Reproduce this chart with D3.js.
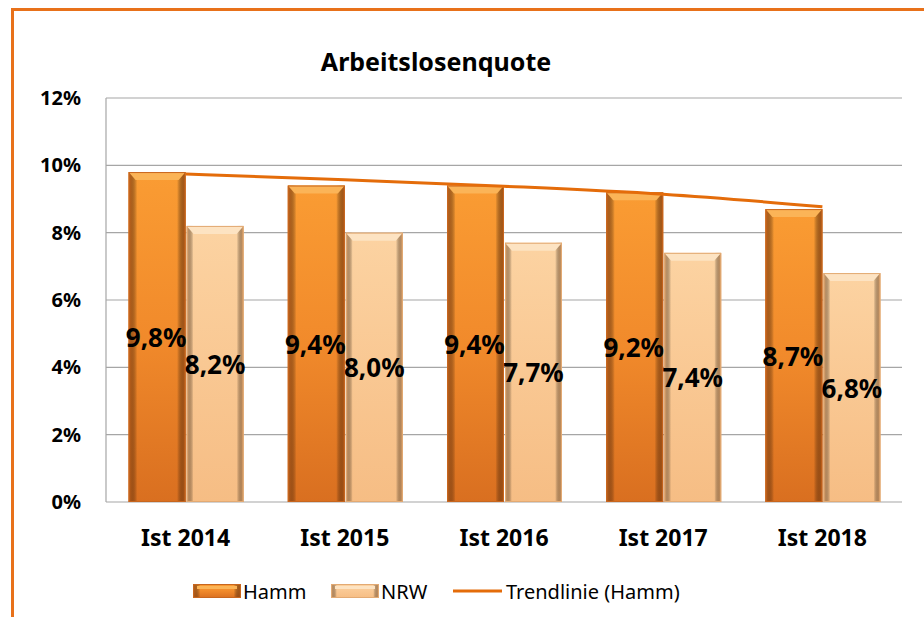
<!DOCTYPE html>
<html><head><meta charset="utf-8">
<script src="https://cdn.jsdelivr.net/npm/d3@7"></script>
<style>body{margin:0;background:#fff;}svg{display:block;}</style>
</head><body>
<script>
const categories = ["Ist 2014","Ist 2015","Ist 2016","Ist 2017","Ist 2018"];
const hamm = [9.8, 9.4, 9.4, 9.2, 8.7];
const nrw = [8.2, 8.0, 7.7, 7.4, 6.8];
const trend = [9.74, 9.57, 9.38, 9.14, 8.77];
const yTicks = [0,2,4,6,8,10,12];
const seriesNames = ["Hamm","NRW","Trendlinie (Hamm)"];

const W = 924, H = 617;
const svg = d3.select("body").append("svg").attr("width",W).attr("height",H);
const font = "'Noto Sans', 'Open Sans', sans-serif";
const defs = svg.append("defs");

function grad(id, stops, vertical){
  const g = defs.append("linearGradient").attr("id",id)
    .attr("x1",0).attr("y1",0).attr("x2",vertical?0:1).attr("y2",vertical?1:0);
  stops.forEach(s=>g.append("stop").attr("offset",s[0]).attr("stop-color",s[1]));
}
grad("gH",[[0,"#fa9c33"],[0.5,"#f18a2b"],[1,"#d96f20"]],true);
grad("gN",[[0,"#fcd3a2"],[1,"#f6bd84"]],true);
grad("gHside",[[0,"#c9651c"],[0.15,"rgba(0,0,0,0)"],[0.85,"rgba(0,0,0,0)"],[1,"#b55a17"]],false);
grad("gNside",[[0,"#e0a46c"],[0.12,"rgba(0,0,0,0)"],[0.88,"rgba(0,0,0,0)"],[1,"#d99c63"]],false);

// frame
svg.append("line").attr("x1",12).attr("x2",W).attr("y1",9.5).attr("y2",9.5).attr("stroke","#e8711a").attr("stroke-width",3);
svg.append("line").attr("x1",12.5).attr("x2",12.5).attr("y1",8).attr("y2",H).attr("stroke","#e8711a").attr("stroke-width",3);

const plot = {l:106, r:902, t:98, b:502};
const x = d3.scaleBand().domain(categories).range([plot.l, plot.r]);
const y = d3.scaleLinear().domain([0,12]).range([plot.b, plot.t]);
const bw = 57;

// gridlines
svg.append("g").selectAll("line").data(yTicks).join("line")
  .attr("x1",plot.l).attr("x2",plot.r).attr("y1",d=>y(d)).attr("y2",d=>y(d))
  .attr("stroke","#a6a6a6").attr("stroke-width",1.2);
svg.append("line").attr("x1",plot.l).attr("x2",plot.l).attr("y1",plot.t).attr("y2",plot.b).attr("stroke","#a6a6a6").attr("stroke-width",1.2);

// y axis labels
const yAxis = d3.axisLeft(y).tickValues(yTicks).tickFormat(d=>d+"%").tickSize(0).tickPadding(25);
const ya = svg.append("g").attr("transform",`translate(${plot.l},0)`).call(yAxis);
ya.select(".domain").remove();
ya.selectAll("text").attr("font-family",font).attr("font-weight","bold").attr("font-size",20).attr("fill","#000");

// x axis labels
const xAxis = d3.axisBottom(x).tickSize(0).tickPadding(28);
const xa = svg.append("g").attr("transform",`translate(0,${plot.b})`).call(xAxis);
xa.select(".domain").remove();
xa.selectAll("text").attr("font-family",font).attr("font-weight","bold").attr("font-size",23).attr("fill","#000");

function drawBar(g, bx, val, fill, side, top, edge){
  const by = y(val), h = plot.b - by;
  g.append("rect").attr("x",bx).attr("y",by).attr("width",bw).attr("height",h).attr("fill",`url(#${fill})`);
  g.append("rect").attr("x",bx).attr("y",by).attr("width",bw).attr("height",h).attr("fill",`url(#${side})`);
  g.append("path").attr("d",`M${bx},${by}L${bx+bw},${by}L${bx+bw-7},${by+8}L${bx+7},${by+8}Z`).attr("fill",top);
  g.append("rect").attr("x",bx+0.5).attr("y",by+0.5).attr("width",bw-1).attr("height",h-1).attr("fill","none").attr("stroke",edge).attr("stroke-width",1);
}

const bars = svg.append("g");
categories.forEach((c,i)=>{
  const cx = x(c) + x.bandwidth()/2;
  drawBar(bars, cx-bw, hamm[i], "gH", "gHside", "#fbb457", "#c8661e");
  drawBar(bars, cx+1, nrw[i], "gN", "gNside", "#fde3c2", "#e3aa73");
});

// trendline
const line = d3.line().x((d,i)=>x(categories[i])+x.bandwidth()/2).y(d=>y(d)).curve(d3.curveMonotoneX);
svg.append("path").datum(trend).attr("d",line).attr("fill","none").attr("stroke","#e46c0a").attr("stroke-width",3);

// data labels
const lab = svg.append("g").attr("font-family",font).attr("font-weight","bold").attr("font-size",26).attr("text-anchor","middle").attr("fill","#000");
const fmt = v => v.toFixed(1).replace(".",",")+"%";
categories.forEach((c,i)=>{
  const cx = x(c) + x.bandwidth()/2;
  lab.append("text").attr("x",cx-bw/2-1).attr("y",(y(hamm[i])+plot.b)/2+10).text(fmt(hamm[i]));
  lab.append("text").attr("x",cx+bw/2+1).attr("y",(y(nrw[i])+plot.b)/2+10).text(fmt(nrw[i]));
});

// title
svg.append("text").attr("x",436).attr("y",71).attr("text-anchor","middle").attr("font-family",font).attr("font-weight","bold").attr("font-size",25).text("Arbeitslosenquote");

// legend
const lg = svg.append("g").attr("font-family",font).attr("font-size",20).attr("fill","#000");
function legSw(gx, f, s, t, e){
  lg.append("rect").attr("x",gx).attr("y",584).attr("width",48).attr("height",14).attr("fill",`url(#${f})`);
  lg.append("rect").attr("x",gx).attr("y",584).attr("width",48).attr("height",14).attr("fill",`url(#${s})`);
  lg.append("rect").attr("x",gx+4).attr("y",586).attr("width",40).attr("height",3).attr("fill",t);
  lg.append("rect").attr("x",gx+0.5).attr("y",584.5).attr("width",47).attr("height",13).attr("fill","none").attr("stroke",e);
}
legSw(193,"gH","gHside","#fbb457","#c8661e");
lg.append("text").attr("x",243).attr("y",599).text(seriesNames[0]);
legSw(331,"gN","gNside","#fde3c2","#e3aa73");
lg.append("text").attr("x",381).attr("y",599).text(seriesNames[1]);
lg.append("line").attr("x1",453).attr("x2",502).attr("y1",591).attr("y2",591).attr("stroke","#e46c0a").attr("stroke-width",3);
lg.append("text").attr("x",506).attr("y",599).text(seriesNames[2]);
</script>
</body></html>
